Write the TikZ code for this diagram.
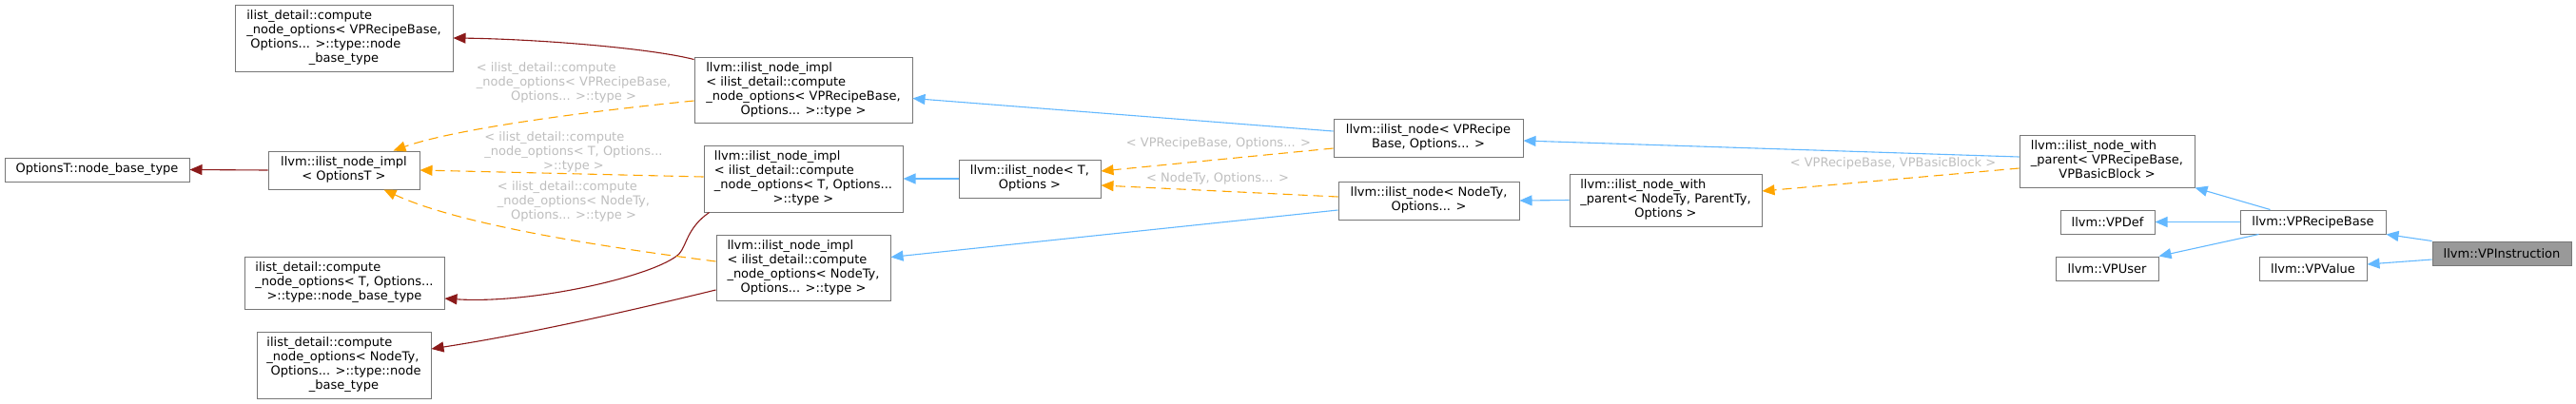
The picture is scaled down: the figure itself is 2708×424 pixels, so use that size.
\documentclass[tikz,border=0pt]{standalone}
\usepackage{fontspec}
\setmainfont{DejaVu Sans}
\usetikzlibrary{arrows.meta,calc}
\definecolor{boxgray}{HTML}{777777}
\definecolor{hlfill}{HTML}{999999}
\definecolor{pubblue}{HTML}{63B8FF}
\definecolor{privred}{HTML}{8B1A1A}
\definecolor{tmplorange}{HTML}{FFA500}
\definecolor{lblgray}{HTML}{BEBEBE}
\newcommand\nlab[2]{\begin{tabular}{@{}l@{}}#1\\\multicolumn{1}{@{}c@{}}{#2}\end{tabular}}
\begin{document}
\begin{tikzpicture}[x=1pt,y=-1pt,
  box/.style={draw=boxgray, line width=1pt, fill=white, rectangle, inner sep=0pt,
    font=\fontsize{13}{15}\selectfont},
  hl/.style={box, fill=hlfill},
  elabel/.style={inner sep=0pt, text=lblgray, font=\fontsize{13}{15}\selectfont},
  tip/.style={-{Triangle[length=13pt,width=11pt]}},
  pub/.style={draw=pubblue, line width=1.1pt, tip},
  priv/.style={draw=privred, line width=1.1pt, tip},
  tmpl/.style={draw=tmplorange, line width=1.1pt, dash pattern=on 10pt off 6pt, tip}]
\useasboundingbox (0,0) rectangle (2708,424);

% nodes
\node[box, minimum width=229pt, minimum height=70pt] (cnobVP) at (361.5,40)
  {\nlab{ilist\_detail::compute\\\_node\_options< VPRecipeBase,\\\ Options... >::type::node}{\_base\_type}};
\node[box, minimum width=194pt, minimum height=25pt] (optNBT) at (102,178.5)
  {OptionsT::node\_base\_type};
\node[box, minimum width=159pt, minimum height=40pt] (implOpt) at (361.5,179)
  {\nlab{llvm::ilist\_node\_impl}{< OptionsT >}};
\node[box, minimum width=210pt, minimum height=55pt] (cnobT) at (362,297.5)
  {\nlab{ilist\_detail::compute\\\_node\_options< T, Options...}{>::type::node\_base\_type}};
\node[box, minimum width=183pt, minimum height=70pt] (cnobNT) at (361.5,384)
  {\nlab{ilist\_detail::compute\\\_node\_options< NodeTy,\\\ Options... >::type::node}{\_base\_type}};
\node[box, minimum width=229pt, minimum height=69pt] (implVP) at (844.5,94.5)
  {\nlab{llvm::ilist\_node\_impl\\< ilist\_detail::compute\\\_node\_options< VPRecipeBase,}{Options... >::type >}};
\node[box, minimum width=209pt, minimum height=70pt] (implT) at (844.5,188)
  {\nlab{llvm::ilist\_node\_impl\\< ilist\_detail::compute\\\_node\_options< T, Options...}{>::type >}};
\node[box, minimum width=183pt, minimum height=69pt] (implNT) at (844.5,281.5)
  {\nlab{llvm::ilist\_node\_impl\\< ilist\_detail::compute\\\_node\_options< NodeTy,}{Options... >::type >}};
\node[box, minimum width=149pt, minimum height=40pt] (nodeT) at (1082.5,188)
  {\nlab{llvm::ilist\_node< T,}{Options >}};
\node[box, minimum width=199pt, minimum height=40pt] (nodeVP) at (1501.5,145)
  {\nlab{llvm::ilist\_node< VPRecipe}{Base, Options... >}};
\node[box, minimum width=190pt, minimum height=40pt] (nodeNT) at (1502,211)
  {\nlab{llvm::ilist\_node< NodeTy,}{Options... >}};
\node[box, minimum width=202pt, minimum height=55pt] (wpNT) at (1751,210.5)
  {\nlab{llvm::ilist\_node\_with\\\_parent< NodeTy, ParentTy,}{Options >}};
\node[box, minimum width=184pt, minimum height=55pt] (wpVP) at (2215,169.5)
  {\nlab{llvm::ilist\_node\_with\\\_parent< VPRecipeBase,}{VPBasicBlock >}};
\node[box, minimum width=99pt, minimum height=25pt] (VPDef) at (2215.5,233.5) {llvm::VPDef};
\node[box, minimum width=108pt, minimum height=25pt] (VPUser) at (2215,282.5) {llvm::VPUser};
\node[box, minimum width=153pt, minimum height=25pt] (VPRB) at (2431.5,233.5) {llvm::VPRecipeBase};
\node[box, minimum width=113pt, minimum height=25pt] (VPValue) at (2431.5,282.5) {llvm::VPValue};
\node[hl, minimum width=146pt, minimum height=25pt] (VPInst) at (2630,266.5) {llvm::VPInstruction};

% edge labels
\node[elabel] (lA) at (603,87) {\nlab{< ilist\_detail::compute\\\_node\_options< VPRecipeBase,}{Options... >::type >}};
\node[elabel] (lB) at (603,160) {\nlab{< ilist\_detail::compute\\\_node\_options< T, Options...}{>::type >}};
\node[elabel] (lC) at (603,212) {\nlab{< ilist\_detail::compute\\\_node\_options< NodeTy,}{Options... >::type >}};
\node[elabel] (lD) at (1281,151) {< VPRecipeBase, Options... >};
\node[elabel] (lE) at (1280,188) {< NodeTy, Options... >};
\node[elabel] (lF) at (1990,172) {< VPRecipeBase, VPBasicBlock >};

% private (dark red) edges
\draw[priv] (implOpt.west) -- (optNBT.east);
\draw[priv] ($(implVP.north west)+(0,3)$) .. controls (680,50) and (560,41) .. (cnobVP.east);
\draw[priv] ($(implT.south west)+(6,0)$) .. controls (722,240) and (722,258) .. (714,267)
  .. controls (690,290) and (560,320) .. ($(cnobT.east)+(0,16.5)$);
\draw[priv] ($(implNT.west)+(0,23.5)$) .. controls (650,330) and (550,352) .. ($(cnobNT.east)+(0,-17)$);

% template (orange dashed) edges
\draw[tmpl] ($(implVP.west)+(0,11.5)$) .. controls (620,117) and (480,135) .. ($(implOpt.north east)+(-28,0)$);
\draw[tmpl] ($(implT.west)+(0,-2)$) -- (implOpt.east);
\draw[tmpl] ($(implNT.west)+(0,-6.5)$) .. controls (620,258) and (480,235) .. ($(implOpt.south east)+(-38,0)$);
\draw[tmpl] ($(nodeVP.west)+(0,11)$) -- ($(nodeT.east)+(0,-8)$);
\draw[tmpl] ($(nodeNT.west)+(0,-4)$) -- ($(nodeT.east)+(0,7)$);
\draw[tmpl] ($(wpVP.west)+(0,7.5)$) -- ($(wpNT.east)+(0,-9.5)$);

% public (blue) edges
\draw[pub] (nodeT.west) -- (implT.east);
\draw[pub] ($(nodeVP.west)+(0,-7)$) -- ($(implVP.east)+(0,9)$);
\draw[pub] ($(nodeNT.west)+(0,10)$) -- ($(implNT.east)+(0,-11)$);
\draw[pub] (wpNT.west) -- (nodeNT.east);
\draw[pub] ($(wpVP.west)+(0,-4.5)$) -- ($(nodeVP.east)+(0,3)$);
\draw[pub] ($(VPRB.north west)+(32,0)$) -- (wpVP.south east);
\draw[pub] (VPRB.west) -- (VPDef.east);
\draw[pub] ($(VPRB.south west)+(20,0)$) -- (VPUser.north east);
\draw[pub] (VPInst.north west) -- (VPRB.south east);
\draw[pub] ($(VPInst.west)+(0,6.5)$) -- ($(VPValue.east)+(0,-4.5)$);
\end{tikzpicture}
\end{document}
